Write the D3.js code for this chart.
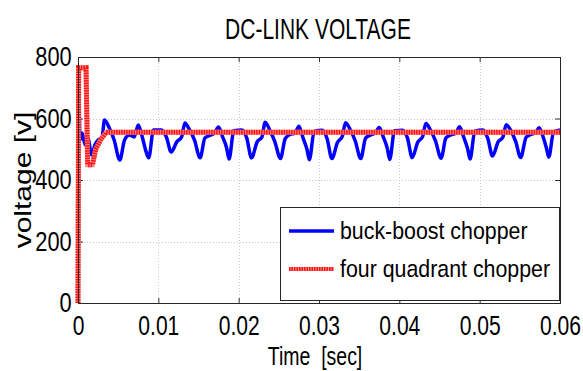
<!DOCTYPE html>
<html>
<head>
<meta charset="utf-8">
<script src="https://cdn.jsdelivr.net/npm/d3@7"></script>
<style>
  body { margin: 0; background: #fff; }
  svg text { font-family: "Liberation Sans", Arial, sans-serif; fill: #000; }
</style>
</head>
<body>
<div id="chart"></div>
<script>

// time ticks [sec] and voltage ticks [v]
const xTicks = [0, 0.01, 0.02, 0.03, 0.04, 0.05, 0.06];
const yTicks = [0, 200, 400, 600, 800];

const seriesNames = ['buck-boost chopper', 'four quadrant chopper'];

// buck-boost chopper: [time, voltage]
const buckBoost = [
	[0, 0], [0.00008, 720], [0.00025, 530], [0.0005, 553], [0.0009, 514], [0.0012, 540],
	[0.0017, 481], [0.0021, 514], [0.0025, 530], [0.0030, 540],
	[0.0033, 595], [0.0039, 569], [0.0045, 530], [0.0052, 465], [0.0058, 530], [0.0064, 546],
	[0.0070, 540], [0.0075, 579], [0.0080, 540], [0.0085, 490], [0.0088, 472], [0.0094, 563],
	[0.0104, 563], [0.0110, 540], [0.0116, 491], [0.0123, 524], [0.0129, 540],
	[0.0133, 585], [0.0139, 562], [0.0145, 530], [0.0152, 472], [0.0158, 537], [0.0164, 545],
	[0.0170, 553], [0.0175, 572], [0.0180, 540], [0.0185, 505], [0.0188, 468], [0.0194, 560],
	[0.0204, 563], [0.0210, 537], [0.0216, 472], [0.0223, 524], [0.0229, 540],
	[0.0233, 588], [0.0239, 560], [0.0245, 525], [0.0252, 470], [0.0258, 535], [0.0264, 548],
	[0.0270, 552], [0.0275, 575], [0.0280, 538], [0.0285, 500], [0.0288, 466], [0.0294, 558],
	[0.0304, 562], [0.0310, 535], [0.0316, 470], [0.0323, 522], [0.0329, 542],
	[0.0333, 586], [0.0339, 563], [0.0345, 528], [0.0352, 470], [0.0358, 536], [0.0364, 546],
	[0.0370, 553], [0.0375, 571], [0.0380, 540], [0.0385, 503], [0.0388, 467], [0.0394, 560],
	[0.0404, 562], [0.0410, 538], [0.0416, 473], [0.0423, 523], [0.0429, 541],
	[0.0433, 584], [0.0439, 561], [0.0445, 527], [0.0452, 471], [0.0458, 537], [0.0464, 547],
	[0.0470, 552], [0.0475, 573], [0.0480, 540], [0.0485, 502], [0.0488, 468], [0.0494, 559],
	[0.0504, 563], [0.0510, 536], [0.0516, 478], [0.0523, 524], [0.0529, 540],
	[0.0533, 580], [0.0539, 560], [0.0545, 524], [0.0551, 473], [0.0558, 540], [0.0564, 548],
	[0.0570, 555], [0.0574, 570], [0.0579, 540], [0.0583, 505], [0.0586, 474], [0.0592, 556],
	[0.0600, 563]
];

// four quadrant chopper: [time, voltage]
const fourQuadrant = [
	[0, 0], [0.00008, 765], [0.0010, 765], [0.0012, 450], [0.0018, 450],
	[0.0022, 500], [0.0028, 530], [0.0035, 555], [0.0600, 555]
];

const W = 583, H = 371;
const box = {left: 78, right: 560, top: 57, bottom: 303};

const svg = d3.select('#chart')
	.append('svg')
	.attr('width', W)
	.attr('height', H);

const x = d3.scaleLinear().domain([0, 0.06]).range([box.left, box.right]);
const y = d3.scaleLinear().domain([0, 800]).range([box.bottom, box.top]);

// the picture is squeezed sideways, so the text is too
const squeeze = 0.78;

// grid
const grid = svg.append('g')
	.attr('stroke', '#c8c8c8')
	.attr('stroke-width', 1)
	.attr('stroke-dasharray', '1,2');

grid.selectAll('.gx')
	.data(xTicks.slice(1, -1))
	.enter()
	.append('line')
	.attr('x1', d => Math.round(x(d)) + 0.5)
	.attr('x2', d => Math.round(x(d)) + 0.5)
	.attr('y1', box.top)
	.attr('y2', box.bottom);

grid.selectAll('.gy')
	.data(yTicks.slice(1, -1))
	.enter()
	.append('line')
	.attr('y1', d => Math.round(y(d)) + 0.5)
	.attr('y2', d => Math.round(y(d)) + 0.5)
	.attr('x1', box.left)
	.attr('x2', box.right);

// axes, ticks pointing in
const fmt = d => d === 0 ? '0' : d3.format('.2f')(d);

const xAxis = svg.append('g')
	.attr('transform', `translate(0,${box.bottom})`)
	.call(d3.axisBottom(x).tickValues(xTicks).tickFormat(fmt).tickSizeInner(-5).tickSizeOuter(0).tickPadding(13));

const yAxis = svg.append('g')
	.attr('transform', `translate(${box.left},0)`)
	.call(d3.axisLeft(y).tickValues(yTicks).tickSizeInner(-5).tickSizeOuter(0).tickPadding(8));

svg.append('g')
	.attr('transform', `translate(0,${box.top})`)
	.call(d3.axisTop(x).tickValues(xTicks).tickFormat('').tickSizeInner(-5).tickSizeOuter(0));

svg.append('g')
	.attr('transform', `translate(${box.right},0)`)
	.call(d3.axisRight(y).tickValues(yTicks).tickFormat('').tickSizeInner(-5).tickSizeOuter(0));

svg.selectAll('.domain').remove();
svg.selectAll('.tick line').attr('stroke', '#333');

xAxis.selectAll('text')
	.attr('font-size', 27)
	.attr('font-family', '"Liberation Sans", Arial, sans-serif')
	.attr('transform', `scale(${squeeze},1)`);

yAxis.selectAll('text')
	.attr('font-size', 28)
	.attr('font-family', '"Liberation Sans", Arial, sans-serif')
	.attr('transform', `scale(${squeeze},1)`);

// lines
const line = d3.line()
	.x(d => x(d[0]))
	.y(d => y(d[1]))
	.curve(d3.curveMonotoneX);

const plot = svg.append('g');

plot.append('path')
	.datum(buckBoost)
	.attr('fill', 'none')
	.attr('stroke', '#0000ff')
	.attr('stroke-width', 3.5)
	.attr('stroke-linejoin', 'round')
	.attr('d', line);

const stepLine = d3.line()
	.x(d => x(d[0]))
	.y(d => y(d[1]));

plot.append('path')
	.datum(fourQuadrant)
	.attr('fill', 'none')
	.attr('stroke', '#ff8c8c')
	.attr('stroke-width', 5)
	.attr('d', stepLine);

plot.append('path')
	.datum(fourQuadrant)
	.attr('fill', 'none')
	.attr('stroke', '#ff1010')
	.attr('stroke-width', 5)
	.attr('stroke-dasharray', '1.5,1')
	.attr('d', stepLine);

// frame
svg.append('rect')
	.attr('x', box.left + 0.5)
	.attr('y', box.top + 0.5)
	.attr('width', box.right - box.left)
	.attr('height', box.bottom - box.top)
	.attr('fill', 'none')
	.attr('stroke', '#262626')
	.attr('stroke-width', 1);

// legend
const legend = svg.append('g');

legend.append('rect')
	.attr('x', 280.5)
	.attr('y', 207.5)
	.attr('width', 279)
	.attr('height', 93)
	.attr('fill', '#fff')
	.attr('stroke', '#262626');

const legendY = [231, 269];

legend.append('line')
	.attr('x1', 289).attr('x2', 334)
	.attr('y1', legendY[0]).attr('y2', legendY[0])
	.attr('stroke', '#0000ff')
	.attr('stroke-width', 3.5);

legend.append('line')
	.attr('x1', 289).attr('x2', 334)
	.attr('y1', legendY[1]).attr('y2', legendY[1])
	.attr('stroke', '#ff8c8c')
	.attr('stroke-width', 4);

legend.append('line')
	.attr('x1', 289).attr('x2', 334)
	.attr('y1', legendY[1]).attr('y2', legendY[1])
	.attr('stroke', '#ff1010')
	.attr('stroke-width', 4)
	.attr('stroke-dasharray', '1.5,1');

legend.selectAll('.lt')
	.data(seriesNames)
	.enter()
	.append('text')
	.attr('transform', (d, i) => `translate(340,${legendY[i] + 8}) scale(0.89,1)`)
	.attr('font-size', 24)
	.text(d => d);

// titles
svg.append('text')
	.attr('transform', `translate(318,39) scale(0.7,1)`)
	.attr('text-anchor', 'middle')
	.attr('font-size', 30)
	.text('DC-LINK VOLTAGE');

svg.append('text')
	.attr('transform', `translate(315,365) scale(${squeeze},1)`)
	.attr('text-anchor', 'middle')
	.attr('font-size', 25)
	.attr('xml:space', 'preserve')
	.style('white-space', 'pre')
	.text('Time  [sec]');

svg.append('text')
	.attr('transform', `translate(31,180) rotate(-90) scale(1,${squeeze})`)
	.attr('text-anchor', 'middle')
	.attr('font-size', 30)
	.text('voltage [v]');

</script>
</body>
</html>
